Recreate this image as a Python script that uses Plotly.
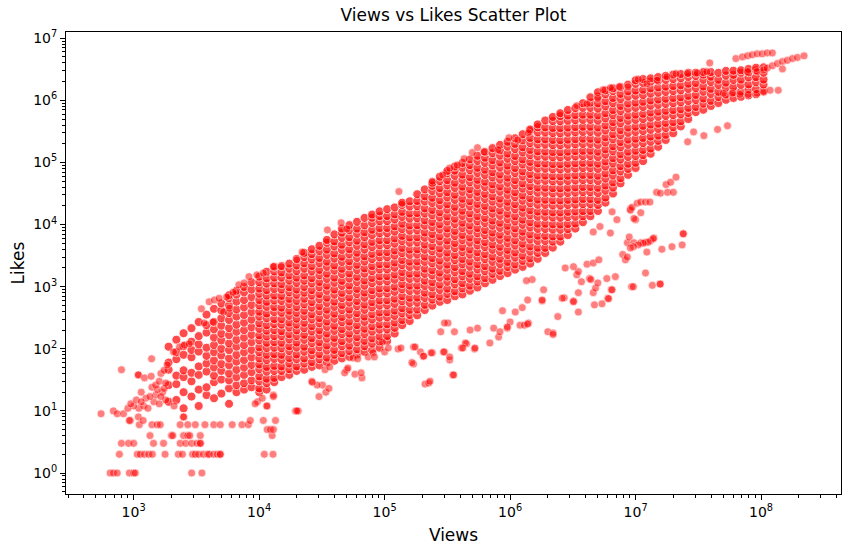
import plotly.graph_objects as go

# views at each column of the dense band, and the likes found in that column
col_views = [1900, 2190, 2500, 2890, 3300, 3810, 4370, 5000, 5760, 6600,
             7590, 8700, 10030, 11480, 13200, 15100, 17400, 19900, 22900, 26300,
             30250, 34700, 39800, 45700, 52400, 60300, 69200, 79500, 91200, 104800,
             120300, 138000, 158500, 182000, 208900, 240000, 275400, 316000, 363000, 417000,
             478600, 549500, 631000, 724400, 831800, 955000, 1096000, 1259000, 1445000, 1660000,
             1905000, 2188000, 2512000, 2884000, 3311000, 3802000, 4365000, 5012000, 5754000, 6607000,
             7586000, 8710000, 10000000, 11480000, 13180000, 15140000, 17380000, 19950000, 22910000, 26300000,
             30200000, 34670000, 39810000, 45710000, 52480000, 60260000, 69180000, 79430000, 91200000, 104700000]

col_likes = [
    [14, 26, 46, 60, 108],
    [15, 27, 37, 68, 88, 140],
    [11, 20, 35, 45, 80, 110, 178],
    [17, 30, 41, 73, 96, 130, 215],
    [12, 22, 38, 52, 90, 118, 160, 270],
    [18, 24, 43, 58, 77, 104, 182, 240, 355],
    [16, 29, 37, 50, 65, 88, 115, 152, 205, 270, 440],
    [19, 32, 44, 57, 78, 100, 136, 175, 235, 310, 415, 540],
    [13, 23, 31, 40, 54, 70, 95, 122, 165, 215, 290, 375, 500, 650, 730],
    [20, 26, 35, 46, 62, 80, 108, 140, 188, 245, 330, 430, 575, 750, 860],
    [22, 28, 38, 50, 66, 88, 115, 152, 200, 265, 350, 465, 610, 810, 990],
    [24, 31, 42, 55, 73, 96, 128, 168, 222, 295, 390, 510, 680, 900, 1180],
    [20, 23, 30, 36, 47, 56, 70, 88, 106, 137, 165, 210, 258, 330, 395, 500, 610, 770, 930, 1180, 1450],
    [22, 28, 33, 43, 51, 66, 80, 103, 125, 158, 196, 240, 310, 370, 475, 570, 720, 880, 1120, 1370, 1740],
    [29, 34, 44, 53, 69, 82, 104, 128, 160, 200, 250, 300, 390, 470, 600, 720, 920, 1130, 1400, 1760, 2100],
    [35, 44, 52, 67, 80, 102, 125, 160, 192, 245, 300, 380, 460, 590, 710, 900, 1100, 1400, 1700, 2150],
    [38, 47, 58, 71, 92, 110, 142, 172, 220, 265, 340, 410, 525, 635, 810, 980, 1250, 1520, 1950, 2350],
    [44, 52, 68, 81, 105, 126, 160, 198, 245, 305, 380, 470, 590, 740, 900, 1150, 1400, 1780, 2200, 2800],
    [46, 58, 70, 90, 108, 140, 168, 215, 262, 335, 410, 520, 640, 800, 990, 1250, 1520, 1950, 2380, 3000, 3500],
    [51, 61, 79, 95, 123, 148, 190, 232, 298, 360, 460, 565, 720, 880, 1130, 1370, 1760, 2150, 2750, 3350, 4000],
    [54, 68, 82, 106, 128, 166, 200, 258, 312, 402, 487, 630, 760, 980, 1190, 1530, 1860, 2400, 2900, 3750, 4550],
    [60, 72, 94, 113, 146, 176, 226, 274, 352, 427, 550, 665, 860, 1040, 1340, 1620, 2090, 2530, 3260, 3950, 5100, 5650],
    [64, 80, 96, 125, 150, 195, 235, 305, 368, 475, 575, 745, 900, 1160, 1400, 1820, 2200, 2840, 3430, 4450, 5370, 6950],
    [70, 85, 110, 133, 172, 208, 268, 325, 420, 508, 655, 795, 1030, 1240, 1600, 1940, 2510, 3030, 3920, 4740, 6120, 7400, 8600],
    [74, 92, 112, 145, 176, 228, 275, 355, 430, 555, 672, 870, 1050, 1360, 1640, 2130, 2570, 3320, 4020, 5200, 6280, 8120, 9800],
    [81, 98, 127, 154, 198, 240, 310, 375, 485, 588, 760, 920, 1190, 1440, 1860, 2250, 2910, 3520, 4550, 5500, 7110, 8600, 11100],
    [89, 110, 134, 173, 210, 272, 330, 425, 515, 665, 805, 1040, 1260, 1630, 1970, 2550, 3080, 3980, 4820, 6230, 7530, 9740, 12800],
    [95, 121, 147, 190, 230, 297, 360, 465, 563, 728, 880, 1140, 1380, 1780, 2150, 2780, 3370, 4350, 5270, 6810, 8240, 10600, 12900, 14500],
    [104, 131, 158, 204, 246, 318, 385, 497, 602, 778, 940, 1215, 1470, 1900, 2300, 2970, 3590, 4640, 5610, 7250, 8770, 11300, 13700, 16300],
    [133, 160, 205, 248, 320, 387, 500, 605, 780, 945, 1220, 1475, 1900, 2300, 2970, 3600, 4650, 5620, 7260, 8790, 11350, 13700, 17700],
    [176, 218, 265, 340, 412, 530, 640, 830, 1000, 1300, 1570, 2030, 2450, 3170, 3830, 4950, 5990, 7740, 9360, 12100, 14600, 18900],
    [240, 290, 372, 450, 582, 703, 910, 1100, 1420, 1720, 2220, 2690, 3470, 4200, 5430, 6560, 8480, 10300, 13300, 16000, 20700, 22500],
    [280, 350, 425, 548, 663, 857, 1040, 1340, 1620, 2090, 2530, 3270, 3960, 5110, 6190, 8000, 9680, 12500, 15100, 19600, 23700],
    [345, 428, 552, 668, 863, 1045, 1350, 1630, 2110, 2550, 3300, 3990, 5150, 6240, 8060, 9750, 12600, 15300, 19700, 23900, 30800],
    [420, 510, 660, 800, 1030, 1250, 1610, 1950, 2520, 3050, 3940, 4770, 6160, 7460, 9640, 11700, 15100, 18200, 23600, 28500, 36800],
    [495, 620, 755, 975, 1180, 1525, 1845, 2380, 2880, 3720, 4500, 5820, 7040, 9100, 11000, 14200, 17200, 22300, 27000, 34800, 42100, 47000],
    [570, 690, 890, 1080, 1400, 1690, 2180, 2640, 3410, 4130, 5330, 6450, 8340, 10100, 13000, 15800, 20400, 24700, 31900, 38600, 49800, 59000],
    [610, 765, 930, 1200, 1455, 1880, 2270, 2940, 3550, 4590, 5550, 7180, 8680, 11200, 13600, 17500, 21200, 27400, 33200, 42900, 51900, 67000, 73000],
    [700, 845, 1090, 1320, 1710, 2070, 2670, 3230, 4180, 5050, 6530, 7900, 10200, 12400, 16000, 19300, 25000, 30200, 39000, 47200, 61000, 73800, 86000],
    [750, 940, 1140, 1470, 1780, 2300, 2790, 3600, 4360, 5630, 6810, 8800, 10700, 13800, 16700, 21500, 26000, 33700, 40700, 52600, 63700, 82300, 98000],
    [860, 1040, 1340, 1620, 2100, 2540, 3280, 3970, 5130, 6200, 8020, 9700, 12500, 15200, 19600, 23700, 30600, 37100, 47900, 58000, 74900, 90600, 112000],
    [970, 1210, 1470, 1900, 2300, 2970, 3590, 4640, 5620, 7260, 8780, 11300, 13700, 17800, 21500, 27700, 33600, 43400, 52500, 67800, 82000, 106000, 128000],
    [1130, 1370, 1770, 2140, 2760, 3340, 4320, 5230, 6750, 8170, 10600, 12800, 16500, 20000, 25800, 31200, 40300, 48800, 63000, 76300, 98600, 119000, 148000],
    [1290, 1610, 1950, 2520, 3050, 3940, 4770, 6160, 7450, 9630, 11600, 15000, 18200, 23500, 28500, 36800, 44500, 57500, 69600, 89900, 109000, 141000, 170000],
    [1480, 1800, 2320, 2810, 3630, 4390, 5670, 6860, 8870, 10700, 13900, 16800, 21700, 26200, 33900, 41000, 53000, 64100, 82800, 100000, 129000, 157000, 192000],
    [1650, 2070, 2500, 3230, 3910, 5050, 6110, 7900, 9560, 12300, 14900, 19300, 23300, 30100, 36500, 47100, 57000, 73700, 89100, 115000, 139000, 180000, 215000],
    [1880, 2280, 2940, 3560, 4600, 5570, 7190, 8700, 11200, 13600, 17600, 21300, 27500, 33200, 42900, 52000, 67200, 81300, 105000, 127000, 164000, 199000, 245000],
    [2080, 2600, 3150, 4070, 4920, 6360, 7700, 9950, 12000, 15500, 18800, 24300, 29400, 38000, 46000, 59400, 71900, 92900, 112000, 145000, 176000, 227000, 285000],
    [2350, 2850, 3680, 4450, 5750, 6960, 8990, 10900, 14100, 17000, 22000, 26600, 34400, 41600, 53700, 65000, 84000, 102000, 131000, 159000, 205000, 248000, 320000, 340000],
    [2800, 3500, 4230, 5470, 6620, 8550, 10300, 13400, 16200, 20900, 25300, 32700, 39500, 51100, 61800, 79800, 96600, 125000, 151000, 195000, 236000, 305000, 369000, 410000],
    [3480, 4210, 5440, 6580, 8500, 10300, 13300, 16100, 20800, 25100, 32500, 39300, 50800, 61400, 79400, 96100, 124000, 150000, 194000, 235000, 303000, 367000, 474000],
    [4250, 5320, 6440, 8320, 10100, 13000, 15700, 20300, 24600, 31800, 38500, 49700, 60100, 77700, 94000, 121000, 147000, 190000, 230000, 297000, 359000, 464000, 540000],
    [5300, 6410, 8280, 10000, 12900, 15700, 20200, 24500, 31600, 38300, 49400, 59800, 77300, 93500, 121000, 146000, 189000, 228000, 295000, 357000, 461000, 558000, 620000],
    [6750, 8450, 10200, 13200, 16000, 20700, 25000, 32300, 39100, 50500, 61100, 79000, 95500, 123000, 149000, 193000, 233000, 301000, 365000, 471000, 570000, 700000],
    [8600, 10400, 13400, 16300, 21000, 25400, 32800, 39700, 51300, 62100, 80200, 97100, 125000, 152000, 196000, 237000, 306000, 371000, 479000, 580000, 750000],
    [10900, 13600, 16500, 21300, 25800, 33300, 40300, 52100, 63000, 81400, 98500, 127000, 154000, 199000, 241000, 311000, 376000, 486000, 588000, 760000, 900000],
    [13600, 16500, 21300, 25700, 33200, 40200, 52000, 62900, 81200, 98300, 127000, 154000, 199000, 240000, 310000, 375000, 485000, 587000, 758000, 917000, 1120000],
    [16500, 20700, 25000, 32300, 39100, 50500, 61100, 79000, 95600, 123000, 149000, 193000, 233000, 302000, 365000, 472000, 571000, 737000, 892000, 1150000, 1350000],
    [22500, 27200, 35200, 42600, 55000, 66600, 86000, 104000, 134000, 163000, 210000, 254000, 328000, 397000, 513000, 621000, 802000, 970000, 1250000, 1450000],
    [31500, 39400, 47700, 61600, 74600, 96300, 117000, 151000, 182000, 236000, 285000, 368000, 446000, 576000, 697000, 900000, 1090000, 1410000, 1560000],
    [46000, 55700, 71900, 87000, 112000, 136000, 176000, 213000, 275000, 332000, 429000, 520000, 671000, 812000, 1050000, 1270000, 1640000],
    [63000, 78800, 95300, 123000, 149000, 193000, 233000, 301000, 364000, 470000, 569000, 735000, 889000, 1150000, 1390000, 1790000],
    [81500, 98600, 127000, 154000, 199000, 241000, 311000, 376000, 486000, 588000, 760000, 919000, 1190000, 1440000, 1850000, 2100000],
    [105000, 131000, 159000, 205000, 248000, 321000, 388000, 501000, 606000, 783000, 948000, 1220000, 1480000, 1910000, 2200000],
    [138000, 167000, 216000, 261000, 337000, 408000, 527000, 638000, 824000, 997000, 1290000, 1560000, 2010000, 2260000],
    [178000, 223000, 270000, 348000, 421000, 544000, 658000, 850000, 1030000, 1330000, 1610000, 2080000, 2370000],
    [230000, 278000, 359000, 434000, 561000, 679000, 877000, 1060000, 1370000, 1660000, 2140000, 2480000],
    [295000, 369000, 446000, 577000, 698000, 901000, 1090000, 1410000, 1700000, 2200000, 2600000],
    [380000, 460000, 594000, 719000, 929000, 1120000, 1450000, 1750000, 2270000, 2650000],
    [500000, 625000, 757000, 978000, 1180000, 1530000, 1850000, 2390000, 2780000],
    [645000, 781000, 1010000, 1220000, 1570000, 1900000, 2460000, 2790000],
    [705000, 882000, 1070000, 1380000, 1670000, 2150000, 2600000, 2850000],
    [810000, 980000, 1270000, 1530000, 1980000, 2400000, 2850000],
    [905000, 1130000, 1370000, 1770000, 2140000, 2770000],
    [1020000, 1240000, 1600000, 1930000, 2500000, 2980000],
    [1090000, 1360000, 1650000, 2130000, 2580000, 3000000],
    [1140000, 1380000, 1780000, 2160000, 2790000, 3050000],
    [1200000, 1500000, 1810000, 2340000, 2830000, 3200000],
    [1250000, 1510000, 1950000, 2360000, 3050000, 3350000],
    [1430000, 1790000, 2160000, 2790000, 3400000],
]

# scattered videos outside the dense band, (views, likes)
low_left = [(550, 9), (690, 10), (740, 9), (800, 46), (830, 9), (650, 1), (690, 1), (740, 1),
            (925, 1), (1000, 1), (1030, 1), (2900, 1), (3500, 1), (770, 2), (1070, 2), (1130, 2),
            (1220, 2), (1320, 2), (1410, 2), (1780, 2), (2270, 2), (2450, 2), (2950, 2), (3100, 2),
            (3300, 2), (3600, 2), (3900, 2), (4000, 2), (4350, 2), (4650, 2), (4900, 2), (4900, 2),
            (800, 3), (910, 3), (1000, 3), (1440, 3), (1730, 3), (2350, 3), (2600, 3), (2900, 3),
            (3200, 3), (3400, 3), (3400, 3), (1350, 4), (2000, 4), (2050, 4), (2500, 4), (2700, 4),
            (2800, 4), (3400, 4), (1110, 6), (1400, 6), (1540, 6), (1630, 6), (2350, 6), (2700, 6),
            (3100, 6), (3700, 6), (4350, 6), (4900, 6), (6100, 6), (7300, 6), (8200, 6), (940, 7),
            (1090, 8), (1190, 7), (925, 7), (2500, 8), (2500, 8), (1100, 11), (1200, 12), (1300, 11),
            (1450, 14), (1600, 13), (1800, 15), (2100, 12), (1000, 12), (900, 11), (1250, 16), (1500, 18),
            (1700, 20), (1400, 24), (1150, 20), (950, 13), (1050, 15), (1150, 14), (1350, 17), (1550, 22),
            (1650, 17), (1750, 23), (1500, 26), (1650, 40), (1750, 45), (1850, 55), (1090, 38), (1090, 38),
            (1220, 34), (1380, 36), (1390, 69), (1600, 30), (1800, 28), (2080, 89), (2320, 107), (2540, 115),
            (2770, 120), (3470, 440), (3650, 260), (4300, 270), (4000, 570), (4400, 610), (4800, 650),
            (5500, 680), (5200, 390), (5800, 450), (6200, 810), (6900, 1070), (7600, 1150), (8300, 1450),
            (9600, 1550), (10800, 1660), (13000, 2100), (15000, 2100), (20000, 2700), (22000, 3600),
            (8500, 7), (10800, 7), (13500, 7), (11000, 2), (12900, 2), (11600, 5), (12700, 4), (12300, 5),
            (13000, 5), (9700, 14), (10600, 16), (11600, 12), (13000, 18), (13000, 17), (9300, 13),
            (11500, 12), (19500, 10), (20500, 10), (20000, 10), (26300, 30)]

mid_lower = [(30000, 17), (34000, 20), (32000, 26), (36000, 23), (29000, 26), (26500, 29), (33500, 46),
             (36500, 51), (50000, 46), (48000, 41), (51000, 49), (58000, 39), (66000, 34), (65000, 41),
             (56000, 71), (61000, 69), (74000, 74), (81000, 86), (83000, 74), (100000, 89), (107000, 103),
             (128000, 99), (96000, 128), (170000, 57), (210000, 27), (225000, 28), (230000, 30),
             (170000, 107), (193000, 89), (203000, 76), (240000, 86), (300000, 89), (330000, 66),
             (330000, 74), (350000, 38), (355000, 38), (280000, 188), (320000, 260), (360000, 188),
             (300000, 260), (410000, 103), (450000, 120), (520000, 99), (480000, 200), (550000, 215),
             (690000, 124), (810000, 155), (950000, 215), (740000, 215), (870000, 410), (1100000, 390),
             (1200000, 240), (1400000, 260), (1300000, 240), (1800000, 590), (2000000, 188),
             (2200000, 180), (2200000, 170), (440000, 124), (420000, 103), (295000, 89), (235000, 86),
             (205000, 76), (175000, 107), (165000, 60), (135000, 103), (525000, 103), (830000, 188),
             (1000000, 270), (950000, 225), (1250000, 460), (1380000, 610), (1380000, 250)]

right_lower = [(1800000, 610), (1850000, 890), (1500000, 1300), (1350000, 1250), (2400000, 330),
               (2700000, 660), (3200000, 590), (3500000, 800), (3500000, 390), (3200000, 570),
               (2600000, 650), (4600000, 800), (4800000, 950), (5400000, 530), (4700000, 510),
               (6000000, 650), (6100000, 640), (6400000, 890), (6500000, 890), (3700000, 1200),
               (4300000, 1350), (4400000, 1300), (5000000, 1150), (5900000, 1350), (6900000, 1450),
               (3400000, 1550), (3500000, 1750), (2750000, 2000), (3200000, 2100), (4100000, 2300),
               (4600000, 2400), (5100000, 2700), (7900000, 3300), (8300000, 2700), (8600000, 3000),
               (9300000, 1000), (9600000, 1000), (12000000, 1660), (13600000, 1050), (15700000, 1100),
               (15700000, 1100), (12300000, 3600), (8600000, 5100), (8900000, 6300), (9700000, 5100),
               (11000000, 5100), (12000000, 5200), (13200000, 5500), (14000000, 6100), (16200000, 4000),
               (19500000, 4400), (23500000, 4700), (13800000, 5900), (12600000, 5200), (11500000, 5000),
               (10500000, 4700), (9600000, 4400), (9100000, 4200), (24000000, 7100), (24000000, 7100),
               (4600000, 7600), (5200000, 9300), (6300000, 7300), (7100000, 12000), (10000000, 12000),
               (11000000, 15500), (9100000, 18000), (6500000, 16000), (9100000, 17000), (9700000, 12500),
               (9400000, 19000), (10300000, 22000), (11000000, 23000), (12000000, 23000), (13000000, 23000),
               (14700000, 33000), (15800000, 32000), (18000000, 33000), (20000000, 33000), (17500000, 44000),
               (19000000, 48000), (21000000, 58000), (26000000, 215000), (29000000, 310000),
               (35000000, 270000), (45000000, 340000), (54000000, 390000)]

upper_mid = [(35000, 8200), (45000, 10700), (50000, 8500), (130000, 34000), (240000, 50000),
             (290000, 63000), (330000, 81000), (380000, 91000), (430000, 115000), (500000, 144000),
             (550000, 173000), (620000, 148000), (800000, 160000), (980000, 250000), (1150000, 230000),
             (1400000, 300000)]

upper_right = [(3400000, 820000), (4100000, 880000), (5000000, 1070000), (5500000, 1480000),
               (6300000, 1600000), (7400000, 1650000), (8700000, 1650000), (10500000, 2200000),
               (12300000, 1850000), (14800000, 2100000), (17800000, 2400000), (21000000, 2700000),
               (26000000, 2700000), (31000000, 2750000), (37000000, 2900000), (39000000, 4000000),
               (78000000, 2900000), (93000000, 2900000), (105000000, 3100000), (63000000, 4700000),
               (71000000, 5000000), (78000000, 5200000), (85000000, 5400000), (93000000, 5600000),
               (102000000, 5600000), (112000000, 5800000), (123000000, 5800000), (112000000, 3300000),
               (123000000, 3600000), (135000000, 3900000), (148000000, 4200000), (162000000, 4400000),
               (178000000, 4700000), (195000000, 4900000), (220000000, 5200000), (148000000, 3200000),
               (50000000, 1300000), (59000000, 1300000), (68000000, 1250000), (79000000, 1250000),
               (93000000, 1300000), (105000000, 1350000), (118000000, 1450000), (137000000, 1450000)]

x_ticks = [1e3, 1e4, 1e5, 1e6, 1e7, 1e8]
x_labels = ["10<sup>3</sup>", "10<sup>4</sup>", "10<sup>5</sup>", "10<sup>6</sup>",
            "10<sup>7</sup>", "10<sup>8</sup>"]
y_ticks = [1, 1e1, 1e2, 1e3, 1e4, 1e5, 1e6, 1e7]
y_labels = ["10<sup>0</sup>", "10<sup>1</sup>", "10<sup>2</sup>", "10<sup>3</sup>",
            "10<sup>4</sup>", "10<sup>5</sup>", "10<sup>6</sup>", "10<sup>7</sup>"]

core_x, core_y = [], []
for v, ls in zip(col_views, col_likes):
    core_x += [v] * len(ls)
    core_y += ls

fig = go.Figure()
fig.add_trace(go.Scatter(
    x=core_x, y=core_y, mode="markers", hoverinfo="skip",
    marker=dict(size=9, color="red", opacity=0.7, line=dict(color="white", width=0.9))))

for group in [low_left, mid_lower, right_lower, upper_mid, upper_right]:
    gx = [p[0] for p in group]
    gy = [p[1] for p in group]
    fig.add_trace(go.Scatter(
        x=gx, y=gy, mode="markers", hoverinfo="skip",
        marker=dict(size=8, color="red", opacity=0.5, line=dict(color="white", width=0.7))))

minor_x = [k * 10 ** e for e in range(2, 9) for k in range(2, 10) if 290 < k * 10 ** e < 4.3e8]
minor_y = [k * 10 ** e for e in range(-1, 7) for k in range(2, 10) if 0.46 < k * 10 ** e < 1.2e7]

axis_style = dict(type="log", showgrid=False, zeroline=False, showline=True, mirror=True,
                  linecolor="black", linewidth=1, ticks="outside", ticklen=5, tickwidth=1,
                  tickcolor="black", tickmode="array", tickfont=dict(size=14), automargin=False)

fig.update_layout(
    width=849, height=552, autosize=False,
    margin=dict(l=66, r=8, t=32, b=58),
    paper_bgcolor="white", plot_bgcolor="white",
    showlegend=False,
    font=dict(family="DejaVu Sans", size=14, color="black"),
    title=dict(text="Views vs Likes Scatter Plot", x=0.5, xref="paper", xanchor="center",
               y=1 - 15 / 552, yanchor="middle", font=dict(size=17)),
    xaxis=dict(axis_style, range=[2.461, 8.637], tickvals=x_ticks, ticktext=x_labels,
               title=dict(text="Views", standoff=10),
               minor=dict(tickvals=minor_x, ticks="outside", ticklen=3, tickcolor="black", tickwidth=0.8)),
    yaxis=dict(axis_style, range=[-0.338, 7.10], tickvals=y_ticks, ticktext=y_labels,
               title=dict(text="Likes", standoff=4),
               minor=dict(tickvals=minor_y, ticks="outside", ticklen=3, tickcolor="black", tickwidth=0.8)),
)

fig.write_html("out.html", config={"displayModeBar": False, "responsive": False},
               post_script="document.body.style.margin='0';document.body.style.overflow='hidden';")
